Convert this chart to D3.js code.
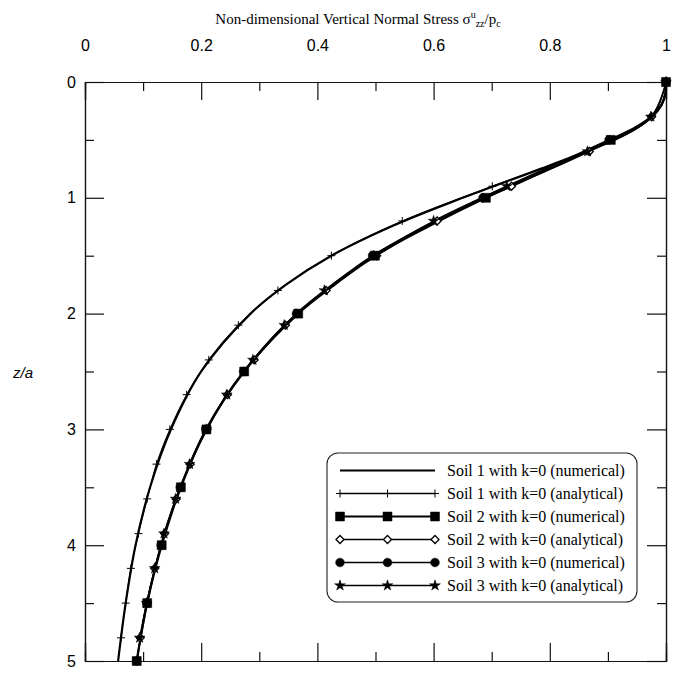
<!DOCTYPE html>
<html>
<head>
<meta charset="utf-8">
<script src="https://cdn.jsdelivr.net/npm/d3@7"></script>
<style>
  html, body { margin: 0; padding: 0; background: #fff; }
  svg { display: block; }
</style>
</head>
<body>
<script>
// ---------- data ----------
const zNumerical = [0, 0.1, 0.2, 0.3, 0.4, 0.5, 0.75, 1.0, 1.25, 1.5, 1.75, 2.0, 2.5, 3.0, 3.5, 4.0, 4.5, 5.0];
const soil1Numerical = [1.000, 0.999, 0.992, 0.976, 0.949, 0.911, 0.784, 0.650, 0.526, 0.424, 0.346, 0.285, 0.200, 0.148, 0.112, 0.087, 0.070, 0.057];
const soil2Numerical = [1.000, 0.999, 0.992, 0.975, 0.946, 0.905, 0.800, 0.690, 0.590, 0.499, 0.430, 0.367, 0.274, 0.209, 0.165, 0.132, 0.107, 0.089];
const soil3Numerical = [1.000, 0.999, 0.992, 0.974, 0.944, 0.902, 0.792, 0.685, 0.584, 0.495, 0.426, 0.364, 0.273, 0.208, 0.164, 0.131, 0.107, 0.089];

const zAnalytical = [0, 0.3, 0.6, 0.9, 1.2, 1.5, 1.8, 2.1, 2.4, 2.7, 3.0, 3.3, 3.6, 3.9, 4.2, 4.5, 4.8];
const soil1Analytical = [1.000, 0.976, 0.864, 0.701, 0.546, 0.424, 0.332, 0.264, 0.213, 0.175, 0.146, 0.123, 0.107, 0.092, 0.079, 0.070, 0.062];
const soil2Analytical = [1.000, 0.975, 0.868, 0.734, 0.606, 0.502, 0.415, 0.345, 0.291, 0.245, 0.210, 0.181, 0.157, 0.137, 0.120, 0.106, 0.095];
const soil3Analytical = [1.000, 0.974, 0.865, 0.726, 0.600, 0.497, 0.412, 0.343, 0.289, 0.244, 0.209, 0.180, 0.156, 0.136, 0.120, 0.106, 0.094];

const xTickValues = [0, 0.2, 0.4, 0.6, 0.8, 1];
const xTickLabels = ["0", "0.2", "0.4", "0.6", "0.8", "1"];
const xMinorValues = [0.1, 0.3, 0.5, 0.7, 0.9];
const yTickValues = [0, 1, 2, 3, 4, 5];
const yTickLabels = ["0", "1", "2", "3", "4", "5"];
const yMinorValues = [0.5, 1.5, 2.5, 3.5, 4.5];

const legendLabels = [
  "Soil 1 with k=0 (numerical)",
  "Soil 1 with k=0 (analytical)",
  "Soil 2 with k=0 (numerical)",
  "Soil 2 with k=0 (analytical)",
  "Soil 3 with k=0 (numerical)",
  "Soil 3 with k=0 (analytical)"
];

// ---------- chart ----------
const W = 681, H = 689;
const svg = d3.select("body").append("svg").attr("width", W).attr("height", H);

const x = d3.scaleLinear().domain([0, 1]).range([85, 666]);
const y = d3.scaleLinear().domain([0, 5]).range([82, 661]);

const serif = "'Liberation Serif', 'Times New Roman', serif";
const sans = "'Liberation Sans', Arial, sans-serif";

// Title
const title = svg.append("text")
  .attr("x", 358).attr("y", 24)
  .attr("text-anchor", "middle")
  .attr("font-family", serif).attr("font-size", 15).attr("fill", "#000");
title.append("tspan").text("Non-dimensional Vertical Normal Stress \u03C3");
title.append("tspan").attr("font-size", 10).attr("dy", -6).text("u");
title.append("tspan").attr("font-size", 10).attr("dy", 9).text("zz");
title.append("tspan").attr("dy", -3).text("/p");
title.append("tspan").attr("font-size", 10).attr("dy", 3).text("c");

// Y label
svg.append("text")
  .attr("x", 23).attr("y", 378)
  .attr("text-anchor", "middle")
  .attr("font-family", sans).attr("font-size", 15).attr("font-style", "italic")
  .attr("fill", "#000")
  .text("z/a");

function styleAxis(g) {
  g.select(".domain").attr("stroke", "#111").attr("stroke-width", 1.2);
  g.selectAll(".tick line").attr("stroke", "#111").attr("stroke-width", 1.2);
  g.selectAll(".tick text").attr("font-family", sans).attr("font-size", 16).attr("fill", "#000");
}

// Top axis (labels)
svg.append("g").attr("transform", `translate(0,${y(0)})`)
  .call(d3.axisTop(x).tickValues(xTickValues).tickSize(-18).tickPadding(31)
    .tickFormat((d, i) => xTickLabels[i]))
  .call(styleAxis);
svg.append("g").attr("transform", `translate(0,${y(0)})`)
  .call(d3.axisTop(x).tickValues(xMinorValues).tickSize(-9).tickFormat(""))
  .call(styleAxis);

// Bottom axis
svg.append("g").attr("transform", `translate(0,${y(5)})`)
  .call(d3.axisBottom(x).tickValues(xTickValues).tickSize(-18).tickFormat(""))
  .call(styleAxis);
svg.append("g").attr("transform", `translate(0,${y(5)})`)
  .call(d3.axisBottom(x).tickValues(xMinorValues).tickSize(-9).tickFormat(""))
  .call(styleAxis);

// Left axis (labels)
svg.append("g").attr("transform", `translate(${x(0)},0)`)
  .call(d3.axisLeft(y).tickValues(yTickValues).tickSize(-19).tickPadding(9)
    .tickFormat((d, i) => yTickLabels[i]))
  .call(styleAxis);
svg.append("g").attr("transform", `translate(${x(0)},0)`)
  .call(d3.axisLeft(y).tickValues(yMinorValues).tickSize(-9).tickFormat(""))
  .call(styleAxis);

// Right axis
svg.append("g").attr("transform", `translate(${x(1)},0)`)
  .call(d3.axisRight(y).tickValues(yTickValues).tickSize(-19).tickFormat(""))
  .call(styleAxis);
svg.append("g").attr("transform", `translate(${x(1)},0)`)
  .call(d3.axisRight(y).tickValues(yMinorValues).tickSize(-9).tickFormat(""))
  .call(styleAxis);

// ---------- markers ----------
const markerPaths = {
  none: null,
  plus: "M-4,0H4M0,-4V4",
  square: "M-4.5,-4.5H4.5V4.5H-4.5Z",
  diamond: "M0,-4L4,0L0,4L-4,0Z",
  circle: d3.symbol(d3.symbolCircle, 60)(),
  star: d3.symbol(d3.symbolStar, 36)()
};
const markerStyle = {
  plus: { fill: "none", stroke: "#000", sw: 1 },
  square: { fill: "#000", stroke: "#000", sw: 0.5 },
  diamond: { fill: "#fff", stroke: "#000", sw: 1.3 },
  circle: { fill: "#000", stroke: "#000", sw: 0.5 },
  star: { fill: "#000", stroke: "#000", sw: 0.5 }
};

const seriesList = [
  { id: 0, z: zNumerical, v: soil1Numerical, marker: "none", lw: 2.2, every: 0.5 },
  { id: 1, z: zAnalytical, v: soil1Analytical, marker: "plus", lw: 1.1, every: 0.3 },
  { id: 2, z: zNumerical, v: soil2Numerical, marker: "square", lw: 2.2, every: 0.5 },
  { id: 3, z: zAnalytical, v: soil2Analytical, marker: "diamond", lw: 1.3, every: 0.3 },
  { id: 4, z: zNumerical, v: soil3Numerical, marker: "circle", lw: 1.8, every: 0.5 },
  { id: 5, z: zAnalytical, v: soil3Analytical, marker: "star", lw: 1.3, every: 0.3 }
];
const drawOrder = [0, 1, 4, 3, 5, 2];

const line = d3.line()
  .x(d => x(d[1]))
  .y(d => y(d[0]))
  .curve(d3.curveCatmullRom.alpha(0.5));

const plot = svg.append("g");
drawOrder.forEach(idx => {
  const s = seriesList[idx];
  const pts = s.z.map((z, i) => [z, s.v[i]]);
  plot.append("path")
    .datum(pts)
    .attr("d", line)
    .attr("fill", "none")
    .attr("stroke", "#000")
    .attr("stroke-width", s.lw)
    .attr("stroke-linejoin", "round");
});
drawOrder.forEach(idx => {
  const s = seriesList[idx];
  if (s.marker === "none") return;
  const pts = s.z.map((z, i) => [z, s.v[i]])
    .filter(d => Math.abs(d[0] / s.every - Math.round(d[0] / s.every)) < 1e-6);
  const st = markerStyle[s.marker];
  plot.selectAll(null).data(pts).enter().append("path")
    .attr("transform", d => `translate(${x(d[1])},${y(d[0])})`)
    .attr("d", markerPaths[s.marker])
    .attr("fill", st.fill)
    .attr("stroke", st.stroke)
    .attr("stroke-width", st.sw);
});

// ---------- legend ----------
const lg = svg.append("g");
lg.append("rect")
  .attr("x", 327).attr("y", 453).attr("width", 310).attr("height", 149)
  .attr("rx", 11).attr("ry", 11)
  .attr("fill", "#fff").attr("stroke", "#222").attr("stroke-width", 1.1);

const lgX0 = 340, lgX1 = 435, lgXm = 387.5;
legendLabels.forEach((lab, i) => {
  const s = seriesList[i];
  const yy = 470.5 + i * 23;
  lg.append("line")
    .attr("x1", lgX0).attr("x2", lgX1).attr("y1", yy).attr("y2", yy)
    .attr("stroke", "#000").attr("stroke-width", i === 0 ? 2.2 : (i === 2 ? 2 : 1.3));
  if (s.marker !== "none") {
    const st = markerStyle[s.marker];
    [lgX0, lgXm, lgX1].forEach(mx => {
      lg.append("path")
        .attr("transform", `translate(${mx},${yy})`)
        .attr("d", markerPaths[s.marker])
        .attr("fill", st.fill).attr("stroke", st.stroke).attr("stroke-width", st.sw);
    });
  }
  lg.append("text")
    .attr("x", 447).attr("y", yy)
    .attr("dy", "0.35em")
    .attr("font-family", serif).attr("font-size", 16).attr("fill", "#000")
    .text(lab);
});
</script>
</body>
</html>
